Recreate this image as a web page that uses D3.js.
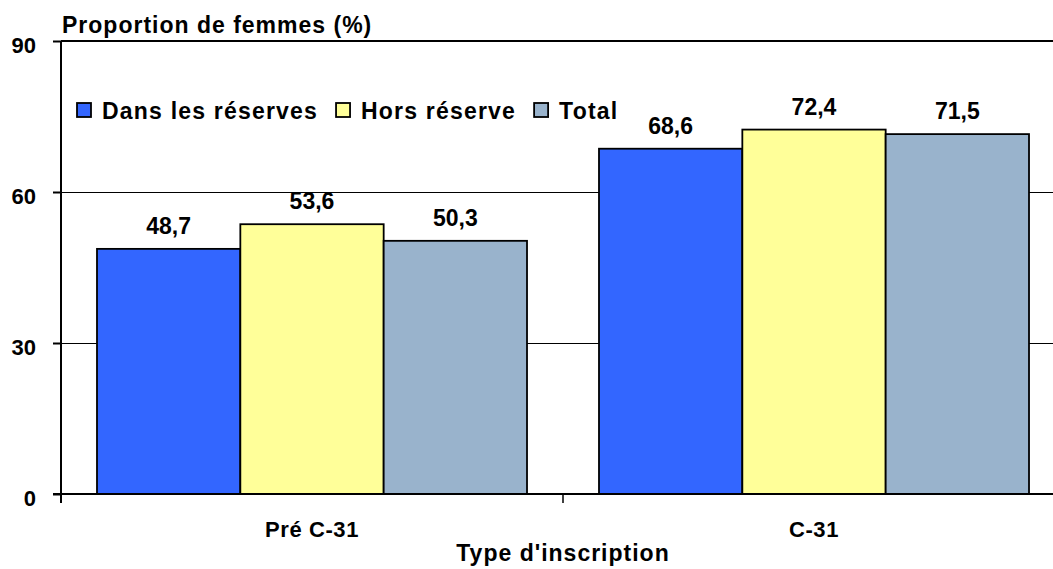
<!DOCTYPE html>
<html>
<head>
<meta charset="utf-8">
<script src="https://cdn.jsdelivr.net/npm/d3@7"></script>
<style>
  body { margin: 0; background: #fff; }
  text { font-family: "Liberation Sans", Arial, sans-serif; font-weight: bold; fill: #000; }
</style>
</head>
<body>
<div id="chart"></div>
<script>
// data
const categories = ['Pré C-31', 'C-31']
const seriesNames = ['Dans les réserves', 'Hors réserve', 'Total']
const dansReserves = [48.7, 68.6]
const horsReserve = [53.6, 72.4]
const total = [50.3, 71.5]
const yTicks = [0, 30, 60, 90]
const colors = ['#3366ff', '#ffff99', '#99b3cc']

const width = 1053
const height = 569
const plot = { left: 61, top: 41, right: 1065, bottom: 494 }

const svg = d3.select('#chart')
  .append('svg')
  .attr('width', width)
  .attr('height', height)

const series = [dansReserves, horsReserve, total]
const rows = categories.map((c, i) => ({
  cat: c,
  values: seriesNames.map((s, j) => ({ key: s, idx: j, value: series[j][i] }))
}))

const y = d3.scaleLinear().domain([0, 90]).range([plot.bottom, plot.top])
const x0 = d3.scaleBand()
  .domain(categories)
  .range([plot.left, plot.right])
  .paddingInner(0.1434)
  .paddingOuter(0.0717)
const x1 = d3.scaleBand()
  .domain(seriesNames)
  .range([0, x0.bandwidth()])

// gridlines
svg.append('g')
  .selectAll('line')
  .data(yTicks.filter(t => t > 0))
  .enter().append('line')
    .attr('x1', plot.left)
    .attr('x2', width)
    .attr('y1', d => d === 90 ? y(d) : Math.round(y(d)) + 0.5)
    .attr('y2', d => d === 90 ? y(d) : Math.round(y(d)) + 0.5)
    .attr('stroke', '#000')
    .attr('stroke-width', d => d === 90 ? 2 : 1)
    .attr('shape-rendering', 'crispEdges')

// y axis
const yAxis = svg.append('g')
  .attr('transform', `translate(${plot.left},0)`)
  .call(d3.axisLeft(y).tickValues(yTicks).tickSize(8).tickPadding(17))
yAxis.select('.domain').remove()
yAxis.selectAll('line').attr('stroke', '#000').attr('stroke-width', 2)
yAxis.selectAll('text')
  .style('font-size', '22px')
  .attr('dy', '0.52em')
yAxis.append('line')
  .attr('x1', 0).attr('x2', 0)
  .attr('y1', plot.top).attr('y2', plot.bottom + 9)
  .attr('stroke', '#000').attr('stroke-width', 2)

// bars
const groups = svg.append('g')
  .selectAll('g')
  .data(rows)
  .enter().append('g')
    .attr('transform', d => `translate(${x0(d.cat)},0)`)

groups.selectAll('rect')
  .data(d => d.values)
  .enter().append('rect')
    .attr('x', d => x1(d.key))
    .attr('y', d => y(d.value))
    .attr('width', x1.bandwidth())
    .attr('height', d => y(0) - y(d.value))
    .attr('fill', d => colors[d.idx])
    .attr('stroke', '#000')
    .attr('stroke-width', 1.8)

groups.selectAll('text')
  .data(d => d.values)
  .enter().append('text')
    .attr('x', d => x1(d.key) + x1.bandwidth() / 2)
    .attr('y', d => y(d.value) - 15)
    .attr('text-anchor', 'middle')
    .style('font-size', '23px')
    .text(d => d.value.toFixed(1).replace('.', ','))

// x axis
svg.append('line')
  .attr('x1', plot.left - 8).attr('x2', width)
  .attr('y1', plot.bottom).attr('y2', plot.bottom)
  .attr('stroke', '#000').attr('stroke-width', 2)

svg.append('g')
  .selectAll('line')
  .data(categories.slice(1))
  .enter().append('line')
    .attr('x1', d => x0(d) - x0.step() * x0.paddingInner() / 2)
    .attr('x2', d => x0(d) - x0.step() * x0.paddingInner() / 2)
    .attr('y1', plot.bottom).attr('y2', plot.bottom + 9)
    .attr('stroke', '#000').attr('stroke-width', 1.5)

svg.append('g')
  .selectAll('text')
  .data(categories)
  .enter().append('text')
    .attr('x', d => x0(d) + x0.bandwidth() / 2)
    .attr('y', 537)
    .attr('text-anchor', 'middle')
    .style('font-size', '22px')
    .style('letter-spacing', '0.6px')
    .text(d => d)

svg.append('text')
  .attr('x', (plot.left + plot.right) / 2)
  .attr('y', 561)
  .attr('text-anchor', 'middle')
  .style('font-size', '23px')
  .style('letter-spacing', '1px')
  .text("Type d'inscription")

// y title
svg.append('text')
  .attr('x', 62)
  .attr('y', 33)
  .style('font-size', '23px')
  .style('letter-spacing', '1px')
  .text('Proportion de femmes (%)')

// legend
const legend = svg.append('g').attr('transform', 'translate(77,103)')
let lx = 0
seriesNames.forEach((name, i) => {
  legend.append('rect')
    .attr('x', lx).attr('y', 0)
    .attr('width', 14).attr('height', 14)
    .attr('fill', colors[i])
    .attr('stroke', '#000')
    .attr('stroke-width', 1.8)
  const t = legend.append('text')
    .attr('x', lx + 25)
    .attr('y', 16)
    .style('font-size', '23px')
    .style('letter-spacing', '1.2px')
    .text(name)
  lx += 25 + t.node().getComputedTextLength() + 18
})
</script>
</body>
</html>
